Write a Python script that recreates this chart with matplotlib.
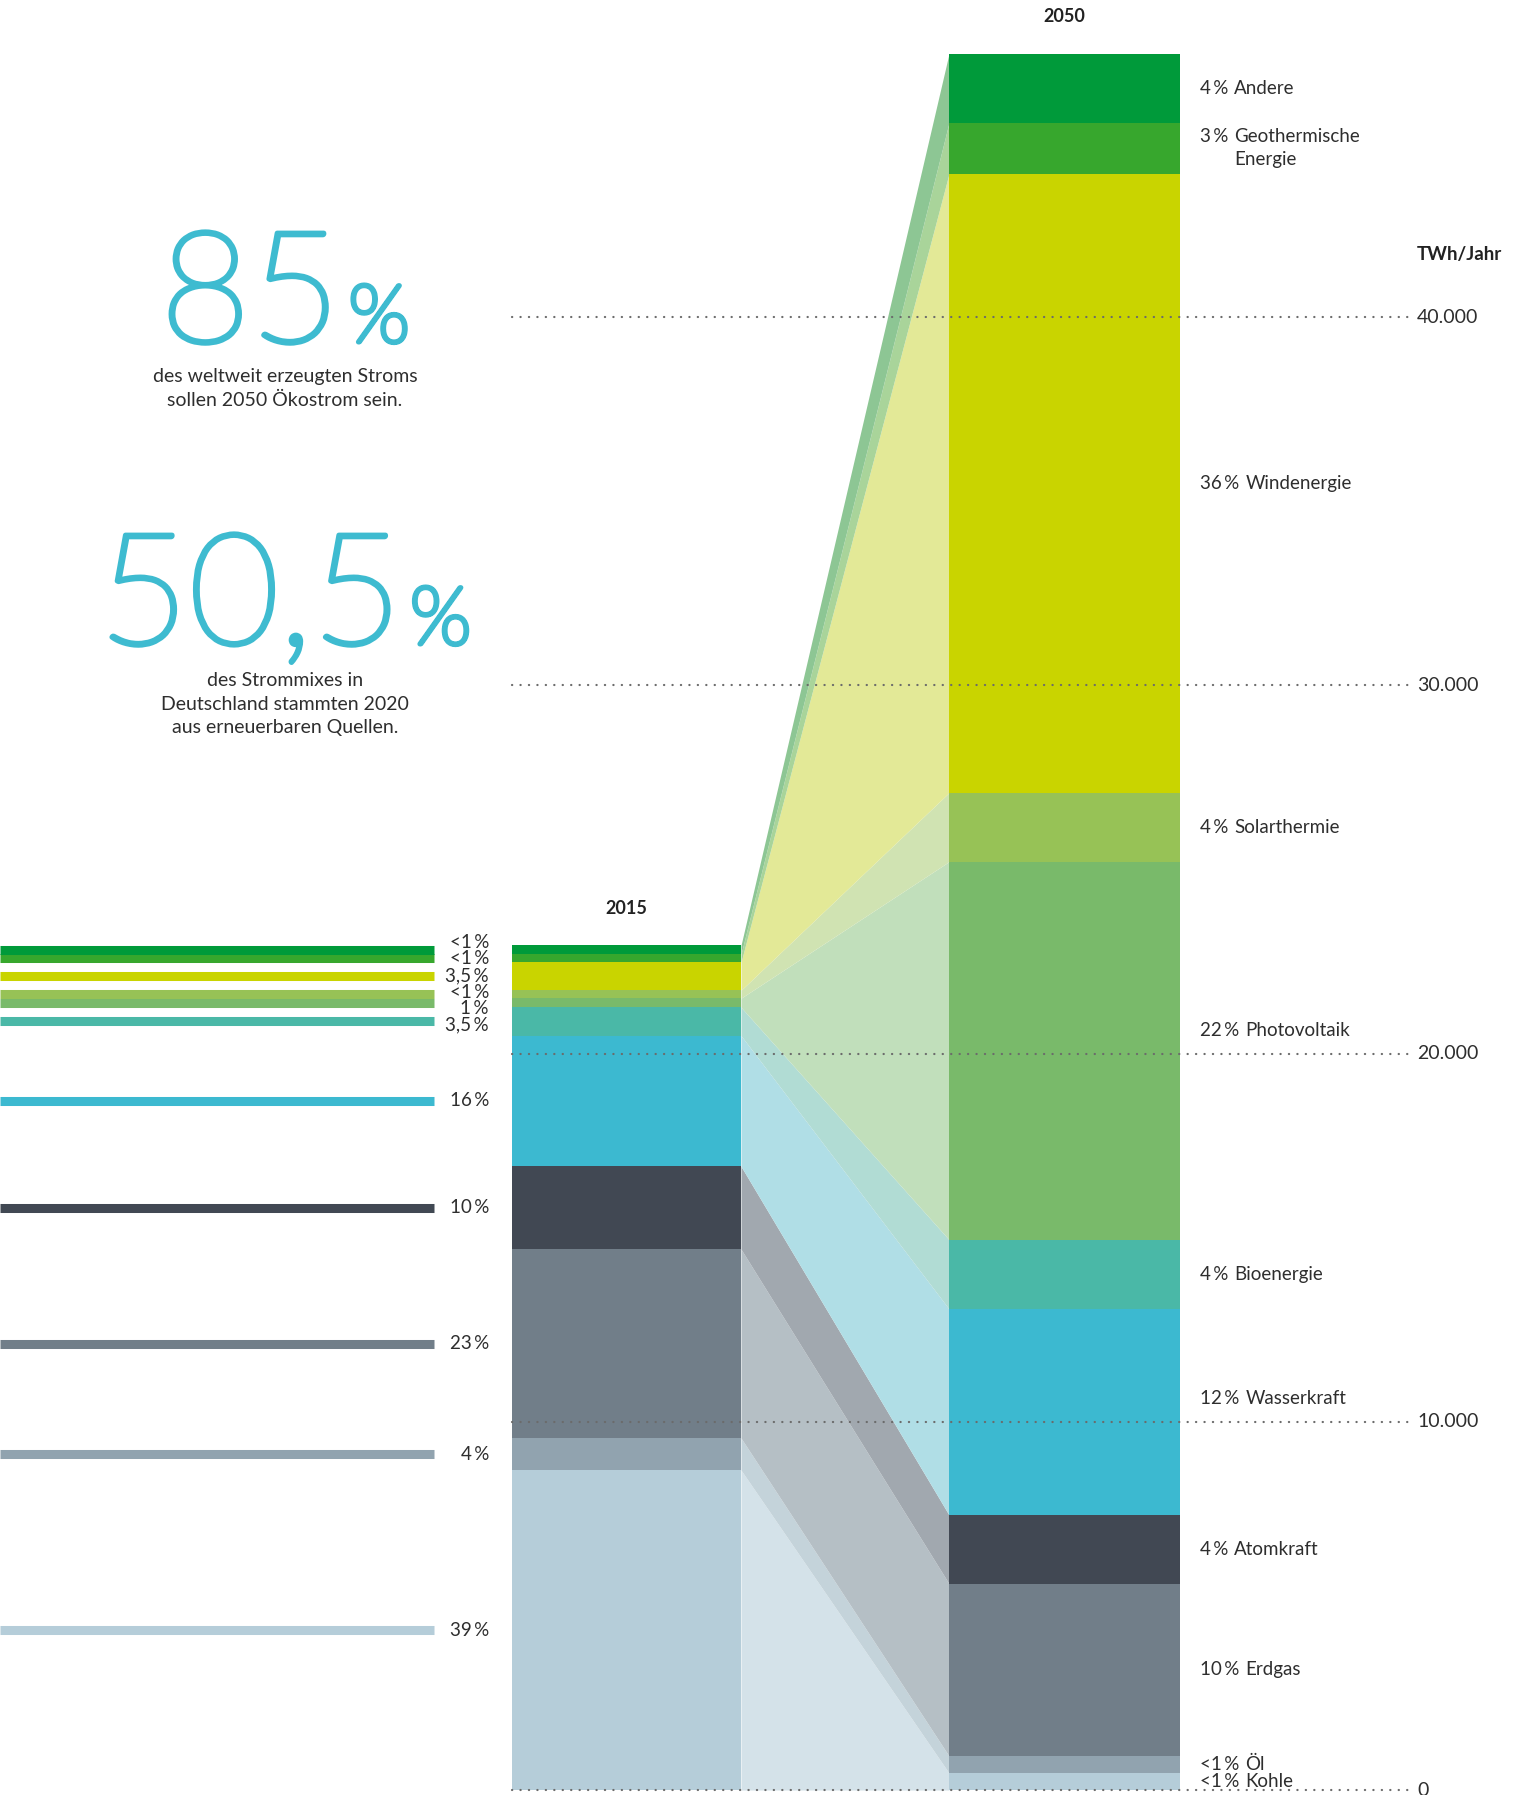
import matplotlib
matplotlib.use('Agg')
import matplotlib.pyplot as plt
import matplotlib.patheffects as pe
import numpy as np

# ---------------- data ----------------
categories = ['Kohle', 'Öl', 'Erdgas', 'Atomkraft', 'Wasserkraft', 'Bioenergie',
              'Photovoltaik', 'Solarthermie', 'Windenergie', 'Geothermische Energie', 'Andere']
twh_2015 = [8690, 870, 5130, 2250, 3550, 770, 245, 215, 760, 215, 245]
twh_2050 = [462, 462, 4680, 1866, 5595, 1882, 10266, 1874, 16811, 1385, 1874]
labels_2015 = ['39\u2009%', '4\u2009%', '23\u2009%', '10\u2009%', '16\u2009%', '3,5\u2009%',
               '1\u2009%', '<1\u2009%', '3,5\u2009%', '<1\u2009%', '<1\u2009%']
labels_2050 = ['<1\u2009%', '<1\u2009%', '10\u2009%', '4\u2009%', '12\u2009%', '4\u2009%',
               '22\u2009%', '4\u2009%', '36\u2009%', '3\u2009%', '4\u2009%']
names_2050 = ['Kohle', 'Öl', 'Erdgas', 'Atomkraft', 'Wasserkraft', 'Bioenergie',
              'Photovoltaik', 'Solarthermie', 'Windenergie', 'Geothermische\nEnergie', 'Andere']
bar_colors = ['#B5CDD9', '#91A3AF', '#717E89', '#414853', '#3CB9D0', '#4AB8A7',
              '#79BA6A', '#97C256', '#C9D400', '#37A72D', '#009A3A']
flow_colors = ['#D4E2E9', '#C4D3DA', '#B5BFC5', '#A1A8AF', '#B0DEE6', '#B1DCD4',
               '#C1DFBB', '#D0E3B2', '#E3E997', '#A9D49A', '#8DC694']
years = ['2015', '2050']
yticks = [0, 10000, 20000, 30000, 40000]
ytick_labels = ['0', '10.000', '20.000', '30.000', '40.000']
unit_label = 'TWh/Jahr'
stat_numbers = ['85', '50,5']
stat_texts = [['des weltweit erzeugten Stroms', 'sollen 2050 Ökostrom sein.'],
              ['des Strommixes in', 'Deutschland stammten 2020', 'aus erneuerbaren Quellen.']]

# ---------------- layout ----------------
W, H, DPI = 1525, 1795, 100
ZERO_ROW = 1790
PX_PER_1000 = 36.82
TWH_PER_PX = 1000.0 / PX_PER_1000

FONT = ['Lato', 'DejaVu Sans']
plt.rcParams['font.family'] = FONT
TXT = '#2e2e2e'
CYAN = '#3EBBD0'


def row(r):
    return (ZERO_ROW - r) * TWH_PER_PX


def px(p):
    return p * TWH_PER_PX


fig = plt.figure(figsize=(W / DPI, H / DPI), dpi=DPI)
ax = fig.add_axes([0, 0, 1, 1])
ax.set_xlim(0, W)
ax.set_ylim(-(H - ZERO_ROW) * TWH_PER_PX, ZERO_ROW * TWH_PER_PX)
ax.axis('off')

X15 = (512, 741)
X50 = (949, 1180)

v15 = np.array(twh_2015, float)
v50 = np.array(twh_2050, float)
b15 = np.concatenate([[0], np.cumsum(v15)[:-1]])
t15 = b15 + v15
b50 = np.concatenate([[0], np.cumsum(v50)[:-1]])
t50 = b50 + v50
n = len(categories)

# flows
for i in range(n):
    ax.fill_between([X15[1], X50[0]], [b15[i], b50[i]], [t15[i], t50[i]],
                    color=flow_colors[i], lw=0, zorder=1)

# stacked bars
ax.bar((X15[0] + X15[1]) / 2, v15, width=X15[1] - X15[0], bottom=b15,
       color=bar_colors, lw=0, zorder=2)
ax.bar((X50[0] + X50[1]) / 2, v50, width=X50[1] - X50[0], bottom=b50,
       color=bar_colors, lw=0, zorder=2)

# left indicator lines
mids15 = b15 + v15 / 2
lc = ax.hlines(mids15, 0, 434, colors=bar_colors, linewidth=6.5, zorder=2)
lc.set_capstyle('butt')


def spread(ys, gap):
    ys = np.asarray(ys, float)
    idx = np.argsort(ys)
    clusters = [[y] for y in ys[idx]]

    def pos(cl):
        c = np.mean(cl)
        m = len(cl)
        return [c + (k - (m - 1) / 2) * gap for k in range(m)]

    changed = True
    while changed:
        changed = False
        for i in range(len(clusters) - 1):
            if pos(clusters[i + 1])[0] - pos(clusters[i])[-1] < gap - 1e-9:
                clusters[i] = clusters[i] + clusters[i + 1]
                del clusters[i + 1]
                changed = True
                break
    out = [p for cl in clusters for p in pos(cl)]
    res = np.empty(len(ys))
    res[idx] = out
    return res


lab_y = spread(mids15, px(16.6))
for i in range(n):
    ax.text(489, lab_y[i], labels_2015[i], ha='right', va='center', fontsize=13.5,
            color=TXT, family=FONT, fontweight='normal', zorder=6)

# dotted grid lines + tick labels
for yv, lab in zip(yticks, ytick_labels):
    ax.plot([512, 1410], [yv, yv], color='#6b6b6b', lw=1.6,
            linestyle=(0, (0.1, 3.7)), dash_capstyle='round', zorder=5)
    ax.text(1417, yv, lab, ha='left', va='center', fontsize=14, color=TXT,
            family=FONT, fontweight='normal')
ax.text(1417, row(255), unit_label, ha='left', va='center', fontsize=13.5,
        fontweight='bold', color='#222222', family=FONT)

# year labels
for yr, xr, tot in zip(years, [X15, X50], [t15[-1], t50[-1]]):
    ax.annotate(yr, xy=((xr[0] + xr[1]) / 2, tot), xytext=(0, 37 * 0.72),
                textcoords='offset points', ha='center', va='center',
                fontsize=13, fontweight='bold', color='#222222', family=FONT)

# 2050 category labels (moved off the dotted grid lines)
fig.canvas.draw()
r = fig.canvas.get_renderer()
inv = ax.transData.inverted()
mids50 = b50 + v50 / 2
label_y50 = mids50.copy()
for i in range(n):
    for g in yticks[1:]:
        if abs(label_y50[i] - g) < px(22):
            label_y50[i] = g + px(23)
for i in range(n):
    lines = names_2050[i].split('\n')
    m = len(lines)
    xname = 1200
    for k, line in enumerate(lines):
        y = label_y50[i] + ((m - 1) / 2 - k) * px(23)
        if k == 0:
            t = ax.text(1200, y, labels_2050[i], ha='left', va='center', fontsize=13.5,
                        color=TXT, family=FONT, fontweight='normal')
            bb = t.get_window_extent(r)
            xname = inv.transform((bb.x1, 0))[0] + 6
        ax.text(xname, y, line, ha='left', va='center', fontsize=13.5,
                color=TXT, family=FONT, fontweight='normal')

# big statistics on the left
stat_base_rows = [342, 644]
text_first_rows = [377, 681]
CX = 285
thick = [pe.withStroke(linewidth=3.6, foreground=CYAN)]
for num, base, lines, tr in zip(stat_numbers, stat_base_rows, stat_texts, text_first_rows):
    tn = ax.text(0, row(base), num, ha='left', va='baseline', fontsize=112,
                 color=CYAN, family=FONT, fontweight='light', path_effects=thick)
    tp = ax.text(0, row(base), '%', ha='left', va='baseline', fontsize=58,
                 color=CYAN, family=FONT, fontweight='light', path_effects=thick)
    wn = tn.get_window_extent(r).width
    wp = tp.get_window_extent(r).width
    gap = 8
    x0 = CX - (wn + gap + wp) / 2
    tn.set_x(x0)
    tp.set_x(x0 + wn + gap)
    for k, line in enumerate(lines):
        ax.text(CX, row(tr + k * 23.5), line, ha='center', va='center', fontsize=14,
                color=TXT, family=FONT, fontweight='normal')

fig.savefig('out.png', dpi=DPI, facecolor='white')
